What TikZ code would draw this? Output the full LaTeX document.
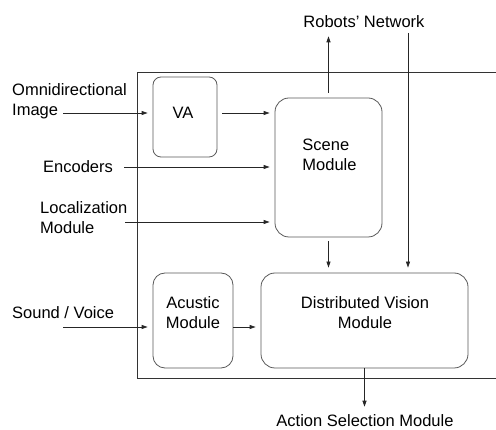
\documentclass[tikz,border=0pt]{standalone}
\usepackage{fontspec}
\setmainfont{Liberation Sans}
\usetikzlibrary{arrows.meta,positioning}
\tikzset{
    module-box/.style = {draw=black!65, line width=0.8pt, rectangle, rounded corners=#1, inner sep=0pt},
    module-box/.default = 14pt,
    module-text/.style = {align=center, inner sep=0pt, font=\fontsize{16.5}{20}\selectfont},
    ext-label/.style = {align=left, inner sep=0pt, font=\fontsize{16.5}{20}\selectfont},
    frame/.style = {draw=black!80, line width=0.8pt},
    flow/.style = {draw=black!85, line width=0.8pt, -{Triangle[length=6pt,width=4pt]}, shorten >=5pt},
}

\begin{document}
\begin{tikzpicture}[x=1pt, y=-1pt]
\useasboundingbox (0,0) rectangle (496,430);
\draw[frame] (496,72) -- (137,72) -- (137,378) -- (496,378);

\node[module-box=8pt, minimum width=64pt, minimum height=80pt] (va) at (185,117) {};
\node[module-text] (va-text) at (183,113) {VA};
\node[module-box, minimum width=107pt, minimum height=139pt] (scene) at (328.5,167.5) {};
\node[module-text, align=left] (scene-text) at (329.5,155) {Scene\\Module};
\node[module-box=12pt, minimum width=80pt, minimum height=95pt] (acustic) at (193,320.5) {};
\node[module-text] (acustic-text) at (193,313) {Acustic\\Module};
\node[module-box, minimum width=207pt, minimum height=95pt] (dvm) at (364.5,320.5) {};
\node[module-text] (dvm-text) at (365,313) {Distributed Vision\\Module};

\node[ext-label, anchor=west] (omni) at (12,101) {Omnidirectional\\Image};
\node[ext-label, anchor=west] (enc) at (43,167) {Encoders};
\node[ext-label, anchor=west] (loc) at (40,217.5) {Localization\\Module};
\node[ext-label, anchor=west] (sound) at (12,313) {Sound / Voice};
\node[module-text] (net) at (364,22) {Robots' Network};
\node[module-text] (action) at (365,421) {Action Selection Module};

\coordinate (omni-out) at (63,113);
\coordinate (loc-out) at (125,222);
\coordinate (net-in) at (408,33);
\coordinate (sound-out) at (63,327);

\draw[flow] (omni-out) -- (omni-out -| va.west);
\draw[flow, shorten <=5pt] ([yshift=4pt]va.east) -- ([yshift=4pt]va.east -| scene.west);
\draw[flow, shorten <=11pt] (enc.east) -- (enc.east -| scene.west);
\draw[flow] (loc-out) -- (loc-out -| scene.west);
\draw[flow, shorten <=5pt, shorten >=8pt] (scene.north) -- (scene.north |- net.south);
\draw[flow] (net-in) -- (net-in |- dvm.north);
\draw[flow, shorten <=4pt] (scene.south) -- (scene.south |- dvm.north);
\draw[flow] (sound-out) -- (sound-out -| acustic.west);
\draw[flow] ([yshift=-6.5pt]acustic.east) -- ([yshift=-6.5pt]acustic.east -| dvm.west);
\draw[flow, shorten >=8pt] (dvm.south) -- (dvm.south |- action.north);
\end{tikzpicture}
\end{document}
